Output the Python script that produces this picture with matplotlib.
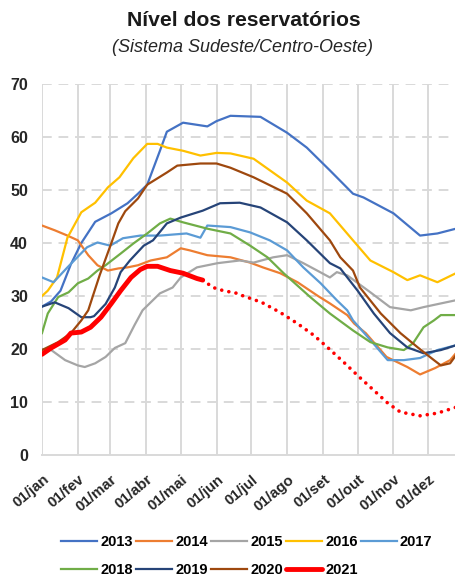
import matplotlib
matplotlib.use("Agg")
import matplotlib.pyplot as plt
import matplotlib.transforms as mtransforms

# dia do ano (0 = 01/jan) e nível (%)
d2013 = [0, 8, 16, 25, 34, 46, 60, 74, 83, 91, 102, 108, 122, 143, 151, 163, 189, 212, 229, 249, 269, 278, 304, 327, 342, 358, 365]
v2013 = [28, 29, 31, 36, 40, 44, 45.6, 47.5, 49.3, 51, 57.4, 61, 62.7, 62, 63, 64, 63.8, 60.8, 58, 53.7, 49.3, 48.6, 45.6, 41.4, 41.8, 42.7, 42.8]

d2014 = [0, 11, 22, 31, 40, 48, 57, 66, 74, 83, 94, 108, 120, 128, 143, 163, 180, 191, 206, 221, 238, 249, 264, 270, 280, 298, 316, 327, 340, 353, 358, 365]
v2014 = [43.3, 42.4, 41.4, 40.5, 37.7, 35.8, 34.8, 35.2, 35.4, 35.8, 36.7, 37.3, 39, 38.6, 37.7, 37.3, 36.3, 35.4, 34.3, 32.6, 30.1, 28.6, 26.4, 24.8, 23, 18.5, 16.6, 15.2, 16.4, 17.9, 19.2, 19.5]

d2015 = [0, 8, 20, 31, 37, 46, 55, 63, 72, 80, 87, 102, 113, 120, 134, 152, 171, 183, 200, 212, 226, 238, 249, 255, 264, 284, 301, 319, 330, 345, 358, 365]
v2015 = [20, 19.8, 17.9, 16.9, 16.6, 17.3, 18.5, 20.2, 21.1, 24.5, 27.3, 30.5, 31.6, 33.5, 35.4, 36.2, 36.7, 36.3, 37.3, 37.7, 36.2, 34.8, 33.5, 34.5, 33.9, 30.7, 27.9, 27.3, 27.9, 28.6, 29.2, 29.3]

d2016 = [0, 5, 13, 22, 34, 46, 57, 67, 79, 91, 100, 108, 122, 137, 151, 163, 183, 212, 229, 249, 269, 284, 304, 316, 327, 342, 358, 365]
v2016 = [30, 31, 33.5, 41, 45.8, 47.6, 50.5, 52.4, 56, 58.7, 58.7, 58, 57.4, 56.5, 57, 56.9, 55.9, 51.4, 48, 45.6, 40.5, 36.7, 34.5, 33, 33.9, 32.6, 34.3, 34.3]

d2017 = [0, 10, 22, 39, 48, 59, 70, 85, 102, 125, 137, 143, 163, 180, 197, 212, 226, 241, 255, 264, 269, 284, 299, 313, 327, 342, 358, 365]
v2017 = [33.5, 32.6, 35.4, 39.2, 40.1, 39.5, 40.9, 41.4, 41.4, 41.8, 41, 43.3, 43, 42, 40.5, 38.6, 35.4, 32.4, 29.2, 27.3, 25.4, 21.7, 17.9, 17.9, 18.3, 19.8, 20.7, 21]

d2018 = [0, 5, 14, 23, 31, 40, 48, 55, 68, 79, 91, 102, 111, 122, 143, 163, 180, 195, 209, 232, 249, 269, 284, 299, 313, 321, 330, 339, 345, 358, 365]
v2018 = [23, 26.7, 29.8, 30.7, 32.4, 33.3, 34.8, 35.8, 38, 39.9, 41.8, 43.7, 44.6, 43.9, 42.7, 41.8, 39.5, 37.3, 34.3, 29.8, 26.7, 23.5, 21.3, 20.3, 19.8, 21.1, 24.1, 25.4, 26.4, 26.4, 26.5]

d2019 = [0, 11, 23, 34, 42, 45, 55, 63, 68, 76, 88, 96, 108, 120, 139, 154, 171, 189, 212, 229, 249, 258, 273, 287, 301, 316, 330, 345, 358, 365]
v2019 = [28, 28.8, 27.7, 26, 26, 26.2, 28.5, 31.6, 34.5, 36.7, 39.5, 40.5, 43.7, 44.8, 46.1, 47.5, 47.6, 46.7, 43.9, 40.5, 36.2, 35.2, 31, 26.7, 23, 20.3, 19.2, 19.8, 20.7, 21]

d2020 = [0, 14, 25, 34, 40, 44, 50, 60, 66, 72, 83, 91, 108, 117, 137, 151, 163, 183, 212, 229, 249, 258, 269, 275, 293, 310, 325, 339, 345, 353, 358, 365]
v2020 = [19.8, 21.3, 23, 25.4, 27.3, 30, 34, 40, 43.7, 46, 48.4, 51, 53.3, 54.6, 55, 55, 54.2, 52.4, 49.3, 45.6, 40.5, 37.3, 34.8, 31.6, 26.7, 23, 20.3, 17.9, 16.9, 17.3, 18.8, 19]

d2021 = [0, 8, 20, 25, 34, 42, 51, 60, 68, 77, 85, 91, 100, 111, 122, 134, 139]
v2021 = [19, 20.2, 21.7, 23, 23.2, 24.1, 26, 28.6, 31, 33.5, 35, 35.6, 35.6, 34.8, 34.3, 33.3, 33]

# projeção 2021 (pontilhado)
d2021p = [139, 148, 157, 169, 173, 190, 206, 221, 235, 247, 261, 273, 284, 299, 310, 327, 342, 358, 365]
v2021p = [33, 31.6, 31, 30.5, 30.1, 28.8, 26.9, 24.8, 22.6, 20.3, 17.5, 15, 12.8, 9.8, 8.1, 7.4, 7.9, 9, 9.3]

month_days = [0, 31, 59, 90, 120, 151, 181, 212, 243, 273, 304, 334]
month_labels = ['01/jan', '01/fev', '01/mar', '01/abr', '01/mai', '01/jun',
                '01/jul', '01/ago', '01/set', '01/out', '01/nov', '01/dez']

series = [
    ('2013', d2013, v2013, '#4472C4'),
    ('2014', d2014, v2014, '#ED7D31'),
    ('2015', d2015, v2015, '#A5A5A5'),
    ('2016', d2016, v2016, '#FFC000'),
    ('2017', d2017, v2017, '#5B9BD5'),
    ('2018', d2018, v2018, '#70AD47'),
    ('2019', d2019, v2019, '#264478'),
    ('2020', d2020, v2020, '#9E480E'),
]

plt.rcParams['font.family'] = ['Liberation Sans', 'DejaVu Sans']

fig = plt.figure(figsize=(4.55, 5.78), dpi=100)
ax = fig.add_axes([42 / 455, 1 - 455 / 578, 422 / 455, 371 / 578])

handles = {}
for name, d, v, c in series:
    handles[name], = ax.plot(d, v, color=c, lw=1.6, label=name)
handles['2021'], = ax.plot(d2021, v2021, color='#FF0000', lw=3.5, label='2021',
                           solid_capstyle='round', zorder=5)
ax.plot(d2021p, v2021p, color='#FF0000', lw=2.6, linestyle=(0, (0.01, 2.0)),
        dash_capstyle='round', zorder=5)

ax.set_xlim(0, 365)
ax.set_ylim(0, 70)
ax.set_yticks(range(0, 71, 10))
ax.set_xticks(month_days)
ax.set_xticklabels([])

# rótulos do eixo x desenhados à mão (posição x em dias, y em fração do eixo)
lab_trans = mtransforms.blended_transform_factory(ax.transData, ax.transAxes) + \
    mtransforms.ScaledTranslation(0.3 / 72, -12.5 / 72, fig.dpi_scale_trans)
for d, lab in zip(month_days, month_labels):
    ax.text(d, 0, lab, transform=lab_trans, rotation=40, ha='right', va='top',
            rotation_mode='anchor', fontweight='bold', fontsize=10.8, color='#262626',
            clip_on=False)

for lab in ax.get_yticklabels():
    lab.set_fontweight('bold')
    lab.set_fontsize(11.5)
    lab.set_color('#262626')
ax.tick_params(length=0, axis='y', pad=10)
ax.tick_params(length=0, axis='x')

for y in range(10, 71, 10):
    ax.axhline(y, color='#D9D9D9', lw=1.4, dashes=(5, 3.5), zorder=0)
for d in month_days:
    ax.axvline(d, color='#D9D9D9', lw=1.4, zorder=0)
for s in ['top', 'right', 'left']:
    ax.spines[s].set_visible(False)
ax.spines['bottom'].set_color('#D9D9D9')
ax.spines['bottom'].set_linewidth(1.4)

fig.text(244 / 455, 1 - 21 / 578, 'Nível dos reservatórios', ha='center', va='center',
         fontsize=15.2, fontweight='bold', color='#1a1a1a')
fig.text(243 / 455, 1 - 48 / 578, '(Sistema Sudeste/Centro-Oeste)', ha='center', va='center',
         fontsize=13, fontstyle='italic', color='#262626')

order = ['2013', '2018', '2014', '2019', '2015', '2020', '2016', '2021', '2017']
leg = fig.legend([handles[k] for k in order], order, ncol=5, loc='upper left',
                 bbox_to_anchor=(61 / 455, 1 - 535 / 578), frameon=False,
                 prop={'weight': 'bold', 'size': 10.5}, handlelength=2.5,
                 handletextpad=0.2, columnspacing=0.2, labelspacing=0.95,
                 borderpad=0, borderaxespad=0)

fig.savefig('out.png', dpi=100)
